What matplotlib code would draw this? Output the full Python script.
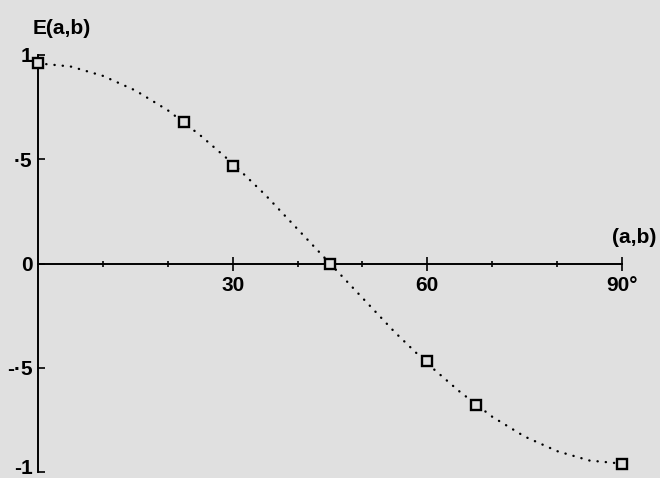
import matplotlib.pyplot as plt
import matplotlib.transforms as mtransforms

# measured correlation E(a,b) against the angle between a and b
angles = [0, 22.5, 30, 45, 60, 67.5, 90]
corr = [0.96, 0.68, 0.47, 0.0, -0.47, -0.68, -0.96]

curve_angles = [0, 5, 10, 15, 20, 25, 30, 35, 40, 45,
                50, 55, 60, 65, 70, 75, 80, 85, 90]
curve_corr = [0.96, 0.945, 0.90, 0.83, 0.735, 0.615, 0.48, 0.33, 0.165, 0.0,
              -0.165, -0.33, -0.48, -0.615, -0.735, -0.83, -0.90, -0.945, -0.96]

xticks = [30, 60, 90]
xticklabels = ['30', '60', '90°']
yticks = [-1, -0.5, 0, 0.5, 1]
yticklabels = ['-1', '-·5', '0', '·5', '1']

bg = '#e0e0e0'
plt.rcParams['font.family'] = ['Liberation Sans', 'DejaVu Sans']
plt.rcParams['font.weight'] = 'bold'

fig = plt.figure(figsize=(6.6, 4.78), dpi=100, facecolor=bg)
ax = fig.add_axes([38 / 660, 6 / 478, 584 / 660, 417 / 478], facecolor=bg)

ax.plot(curve_angles, curve_corr, color='black', lw=1.7,
        linestyle=(0, (0.1, 3.4)), dash_capstyle='round', clip_on=False)
ax.plot(angles, corr, linestyle='none', marker='s', ms=7, mfc=bg,
        mec='black', mew=1.7, clip_on=False, zorder=3)

ax.set_xlim(0, 90)
ax.set_ylim(-1, 1)

for s in ['top', 'right']:
    ax.spines[s].set_visible(False)
ax.spines['bottom'].set_position(('data', 0))
ax.spines['bottom'].set_linewidth(1.4)
ax.spines['left'].set_linewidth(1.4)

ax.set_xticks(xticks)
ax.set_xticklabels(xticklabels, fontsize=15, fontweight='bold')
ax.set_xticks([10, 20, 40, 50, 70, 80], minor=True)
ax.tick_params(axis='x', which='major', direction='inout', length=10,
               width=1.2, pad=4)
ax.tick_params(axis='x', which='minor', direction='inout', length=5,
               width=1.2)

ax.set_yticks(yticks)
ax.set_yticklabels(yticklabels, fontsize=15, fontweight='bold')
ax.tick_params(axis='y', direction='in', length=5, width=1.2, pad=4)

# nudge the bottom label up so it stays inside the figure
lab = ax.get_yticklabels()[0]
lab.set_transform(lab.get_transform() +
                  mtransforms.ScaledTranslation(0, 4 / 72, fig.dpi_scale_trans))

ax.text(-0.8, 1.08, 'E(a,b)', fontsize=15, fontweight='bold',
        ha='left', va='bottom', clip_on=False)
ax.text(95.3, 0.08, '(a,b)', fontsize=15, fontweight='bold',
        ha='right', va='bottom', clip_on=False)

fig.savefig('out.png', dpi=100, facecolor=bg)
